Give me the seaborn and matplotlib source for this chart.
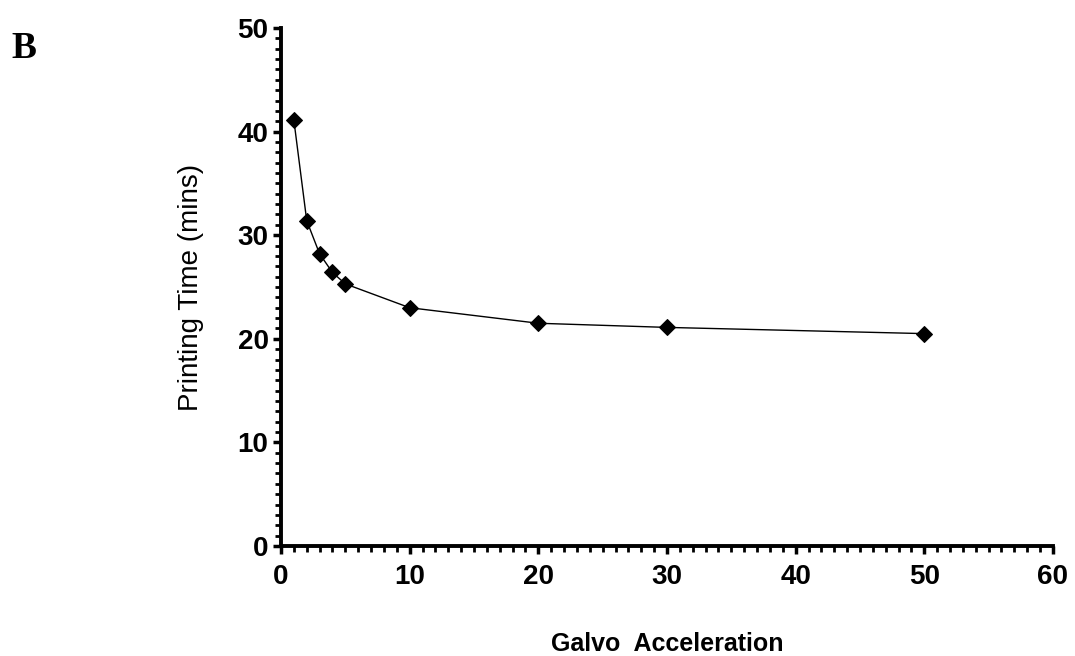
import matplotlib
matplotlib.use("Agg")
import matplotlib.pyplot as plt
from matplotlib.ticker import MultipleLocator
import seaborn as sns
import pandas as pd

# values
acceleration = [1, 2, 3, 4, 5, 10, 20, 30, 50]
printing_time = [41.1, 31.4, 28.2, 26.4, 25.3, 23.0, 21.5, 21.1, 20.5]

df = pd.DataFrame({"acc": acceleration, "time": printing_time})

sns.set_style("ticks")
plt.rcParams["font.family"] = ["Liberation Sans", "DejaVu Sans"]
plt.rcParams["text.color"] = "black"
plt.rcParams["axes.labelcolor"] = "black"
plt.rcParams["xtick.color"] = "black"
plt.rcParams["ytick.color"] = "black"

fig = plt.figure(figsize=(10.75, 6.56), dpi=100)
ax = fig.add_axes([0.2614, 0.1677, 0.7181, 0.7896])

sns.lineplot(data=df, x="acc", y="time", ax=ax, color="black", linewidth=1.0,
             marker="D", markersize=8.5, markeredgecolor="black",
             markerfacecolor="black")

ax.set_xlim(0, 60)
ax.set_ylim(0, 50)
ax.xaxis.set_major_locator(MultipleLocator(10))
ax.yaxis.set_major_locator(MultipleLocator(10))
ax.xaxis.set_minor_locator(MultipleLocator(1))
ax.yaxis.set_minor_locator(MultipleLocator(1))

sns.despine(ax=ax)
for side in ["left", "bottom"]:
    ax.spines[side].set_linewidth(2.8)
    ax.spines[side].set_color("black")
ax.tick_params(which="major", length=6, width=2.5, labelsize=20, pad=3)
ax.tick_params(axis="x", which="major", pad=7)
ax.tick_params(which="minor", length=4, width=2.0)
for lab in ax.get_xticklabels() + ax.get_yticklabels():
    lab.set_fontweight("bold")

ax.set_xlabel("Galvo  Acceleration", fontsize=18, fontweight="bold", labelpad=30)
ax.set_ylabel("Printing Time (mins)", fontsize=20, labelpad=24)

fig.text(0.011, 1 - 58 / 656, "B", fontsize=27, fontweight="bold", va="baseline",
         family=["Liberation Serif", "DejaVu Serif"])

fig.savefig("out.png", dpi=100)
